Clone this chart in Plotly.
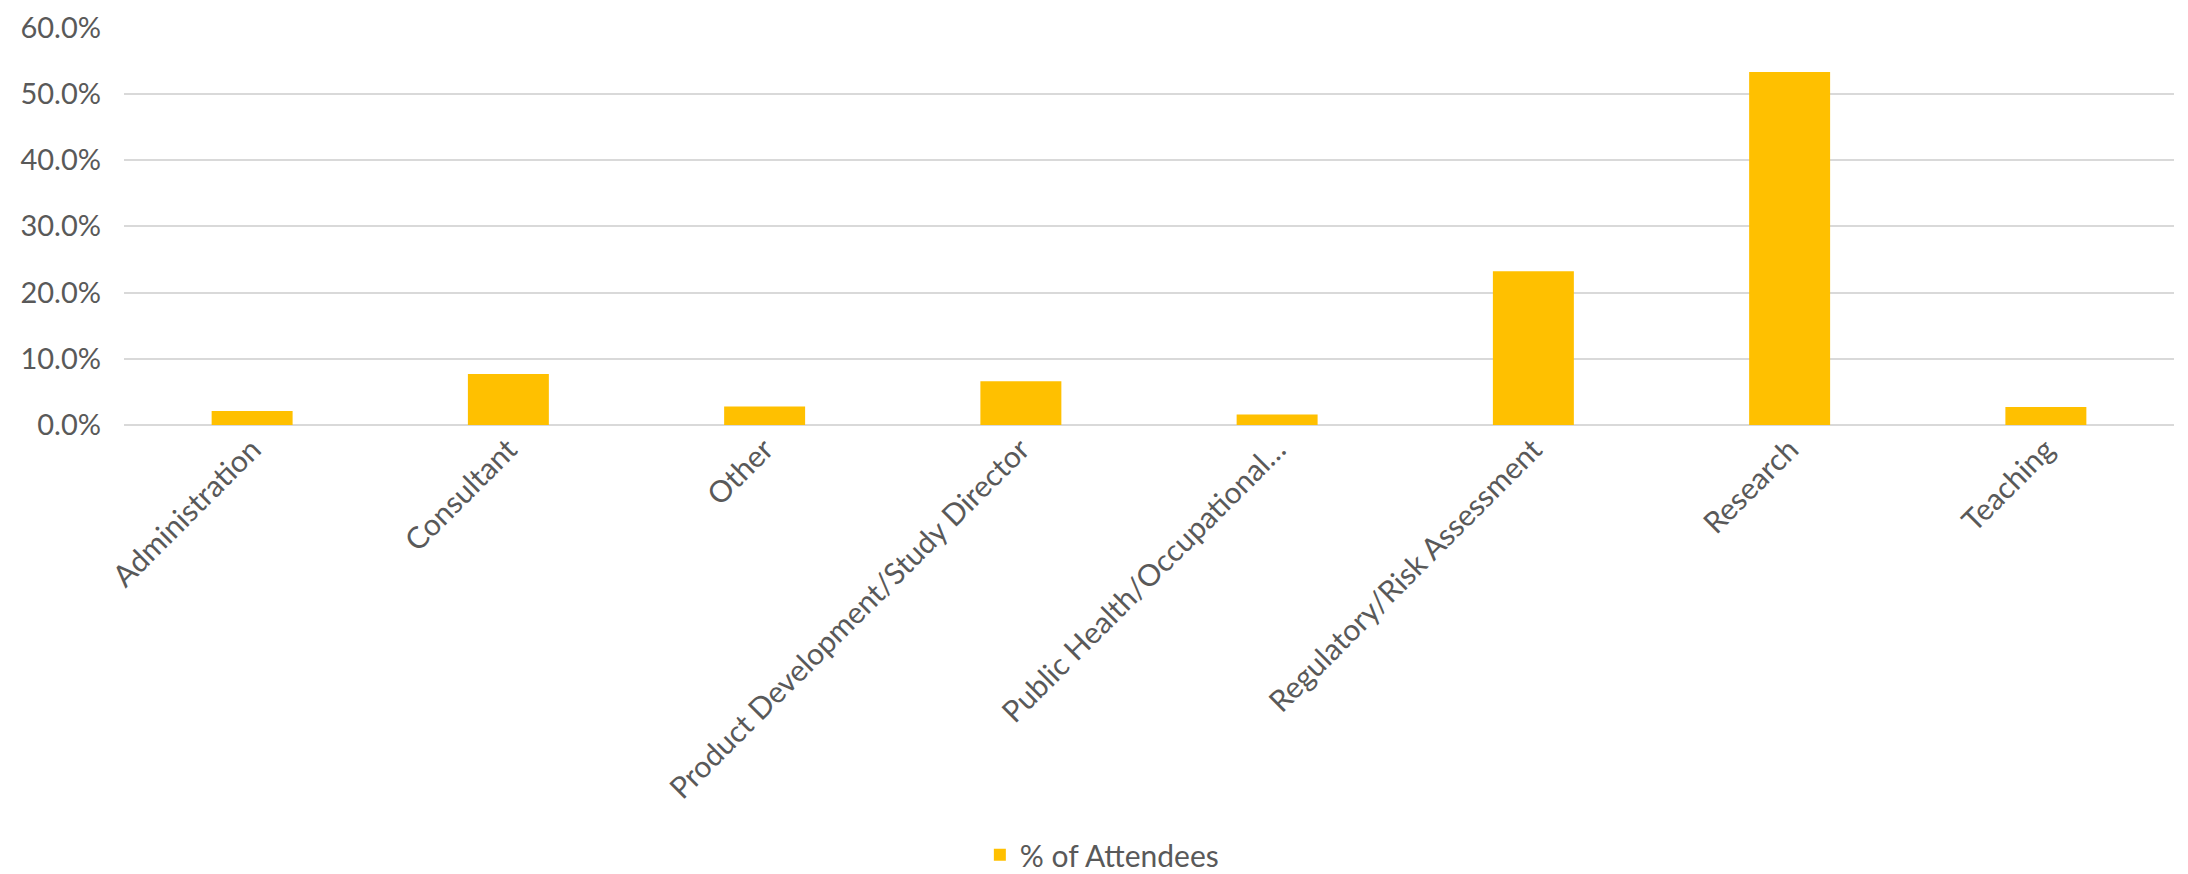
import plotly.graph_objects as go

categories = [
    "Administration",
    "Consultant",
    "Other",
    "Product Development/Study Director",
    "Public Health/Occupational…",
    "Regulatory/Risk Assessment",
    "Research",
    "Teaching",
]
pct_attendees = [2.1, 7.7, 2.8, 6.6, 1.6, 23.2, 53.3, 2.7]
y_ticks = [0, 10, 20, 30, 40, 50, 60]

FONT = "Lato, 'Open Sans', sans-serif"
GRAY = "#595959"

fig = go.Figure()
fig.add_trace(go.Bar(
    x=categories,
    y=pct_attendees,
    name="% of Attendees",
    marker=dict(color="#FFC000", line=dict(width=0)),
))

fig.update_layout(
    width=2180,
    height=866,
    paper_bgcolor="white",
    plot_bgcolor="white",
    margin=dict(l=116, r=14, t=19, b=449, autoexpand=False),
    bargap=0.684,
    font=dict(family=FONT, size=30, color=GRAY),
    showlegend=True,
    legend=dict(
        orientation="h",
        x=0.477,
        xanchor="center",
        y=-1.08,
        yanchor="middle",
        font=dict(family=FONT, size=30, color=GRAY),
        itemwidth=30,
    ),
    xaxis=dict(
        tickangle=-45,
        showgrid=False,
        showline=False,
        ticks="",
        automargin=False,
        tickfont=dict(family=FONT, size=30, color=GRAY),
    ),
    yaxis=dict(
        range=[0, 60.1],
        tickvals=y_ticks,
        ticktext=[f"{v:.1f}%" for v in y_ticks],
        showgrid=True,
        gridcolor="#D9D9D9",
        gridwidth=1.5,
        zeroline=True,
        zerolinecolor="#D9D9D9",
        zerolinewidth=1.5,
        showline=False,
        ticks="",
        automargin=False,
        ticklabeloverflow="allow",
        ticklabelstandoff=22,
        tickfont=dict(family=FONT, size=29, color=GRAY),
    ),
)

fig.write_html("out.html")
